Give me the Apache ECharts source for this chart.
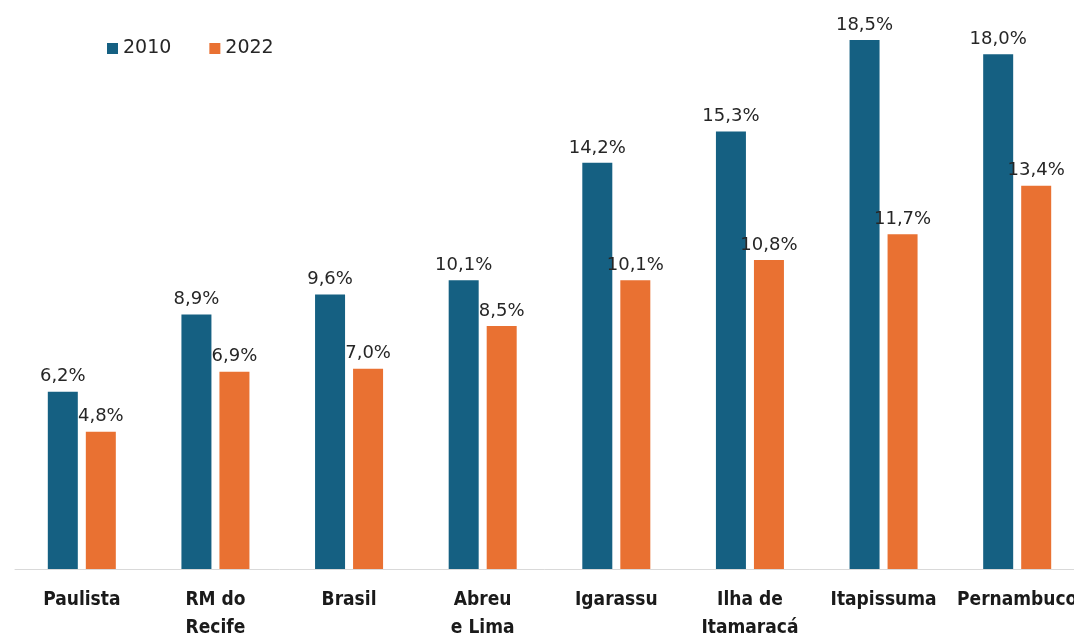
<!DOCTYPE html>
<html>
<head>
<meta charset="utf-8">
<script src="https://cdn.jsdelivr.net/npm/echarts@6/dist/echarts.min.js"></script>
<style>
  html, body { margin: 0; padding: 0; background: #ffffff; }
  #chart { width: 1074px; height: 635px; }
</style>
</head>
<body>
<div id="chart"></div>
<script>
// Municipalities / regions compared
const categories = ['Paulista', 'RM do\nRecife', 'Brasil', 'Abreu\ne Lima', 'Igarassu', 'Ilha de\nItamaracá', 'Itapissuma', 'Pernambuco'];
// Percentages by census year
const values2010 = [6.2, 8.9, 9.6, 10.1, 14.2, 15.3, 18.5, 18.0];
const values2022 = [4.8, 6.9, 7.0, 8.5, 10.1, 10.8, 11.7, 13.4];
const seriesNames = ['2010', '2022'];

const COLOR_2010 = '#156082';
const COLOR_2022 = '#E97132';

const pct = v => v.toFixed(1).replace('.', ',') + '%';

const valueLabel = {
  show: true,
  position: 'top',
  distance: 6,
  formatter: p => pct(p.value),
  fontFamily: 'DejaVu Sans',
  fontSize: 18,
  color: '#262626'
};

const chart = echarts.init(document.getElementById('chart'), null, { renderer: 'canvas' });
chart.setOption({
  animation: false,
  backgroundColor: '#ffffff',
  legend: {
    left: 102,
    top: 34,
    icon: 'rect',
    itemWidth: 11,
    itemHeight: 11,
    itemGap: 38,
    textStyle: { fontFamily: 'DejaVu Sans', fontSize: 19, color: '#262626' },
    data: seriesNames
  },
  grid: { left: 15, width: 1069, top: 17, bottom: 66, containLabel: false, outerBoundsMode: 'none' },
  xAxis: {
    type: 'category',
    data: categories,
    axisLine: { show: true, lineStyle: { color: '#d9d9d9', width: 1 } },
    axisTick: { show: false },
    axisLabel: {
      interval: 0,
      margin: 17,
      fontFamily: '"DejaVu Sans Condensed", Roboto, sans-serif',
      fontWeight: 'bold',
      fontSize: 19,
      lineHeight: 28,
      color: '#1a1a1a'
    }
  },
  yAxis: {
    type: 'value',
    min: 0,
    max: 19.3,
    show: false,
    splitLine: { show: false }
  },
  series: [
    {
      name: seriesNames[0],
      type: 'bar',
      data: values2010,
      barWidth: 30,
      barGap: '26.7%',
      itemStyle: { color: COLOR_2010 },
      label: valueLabel
    },
    {
      name: seriesNames[1],
      type: 'bar',
      data: values2022,
      barWidth: 30,
      itemStyle: { color: COLOR_2022 },
      label: valueLabel
    }
  ]
});
</script>
</body>
</html>
